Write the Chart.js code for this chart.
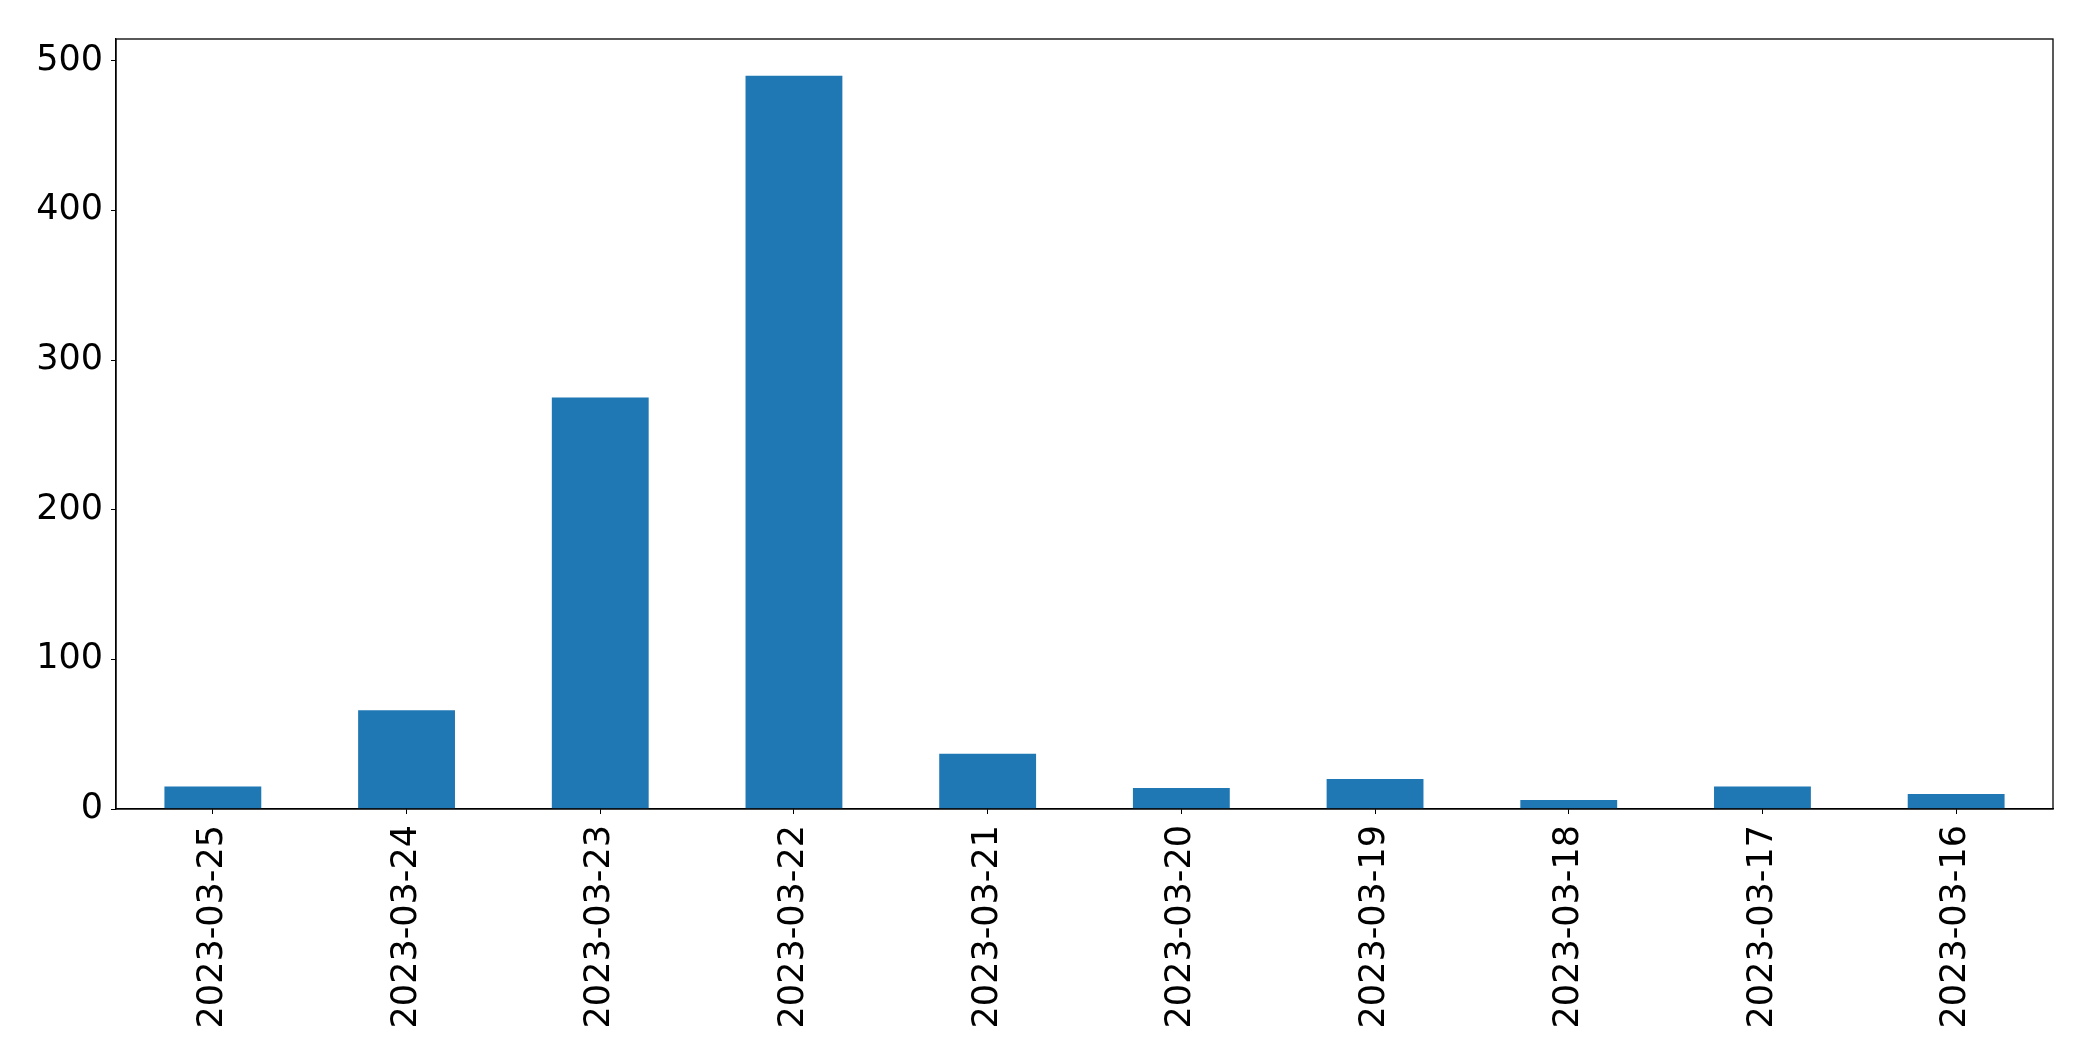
<!DOCTYPE html>
<html>
<head>
<meta charset="utf-8">
<script src="https://cdn.jsdelivr.net/npm/chart.js@4"></script>
<style>
  html, body { margin: 0; padding: 0; background: #fff; }
  #wrap { width: 2093px; height: 1061px; }
</style>
</head>
<body>
<div id="wrap"><canvas id="myChart" width="2093" height="1061"></canvas></div>
<script>
// --- Data ---
const dates = [
  "2023-03-25", "2023-03-24", "2023-03-23", "2023-03-22", "2023-03-21",
  "2023-03-20", "2023-03-19", "2023-03-18", "2023-03-17", "2023-03-16"
];
const counts = [15, 66, 275, 490, 37, 14, 20, 6, 15, 10];
const yTicks = [0, 100, 200, 300, 400, 500];

// --- Box round the plot area (matplotlib style frame) ---
const frame = {
  id: 'frame',
  afterDraw(chart) {
    const a = chart.chartArea;
    const c = chart.ctx;
    c.save();
    c.strokeStyle = '#000';
    c.lineWidth = 1.3;
    c.strokeRect(a.left, a.top, a.right - a.left, a.bottom - a.top);
    c.restore();
  }
};

const ctx = document.getElementById('myChart').getContext('2d');
new Chart(ctx, {
  type: 'bar',
  data: {
    labels: dates,
    datasets: [{
      data: counts,
      backgroundColor: '#1f77b4',
      borderWidth: 0,
      barPercentage: 0.5,
      categoryPercentage: 1.0
    }]
  },
  options: {
    responsive: false,
    animation: false,
    layout: { padding: { top: 39, right: 40, left: 0, bottom: 0 } },
    plugins: {
      legend: { display: false },
      tooltip: { enabled: false }
    },
    scales: {
      x: {
        offset: true,
        grid: { offset: false, drawOnChartArea: false, drawTicks: true, tickLength: 5, color: '#000' },
        border: { display: true, color: '#000', width: 1.3 },
        ticks: {
          color: '#000',
          font: { family: 'DejaVu Sans', size: 35 },
          minRotation: 90,
          maxRotation: 90,
          padding: 11,
          autoSkip: false
        },
        afterFit(scale) { scale.height = 252; scale.paddingLeft = 0; scale.paddingRight = 0; }
      },
      y: {
        min: 0,
        max: Math.max(...counts) * 1.05,
        grid: { drawOnChartArea: false, drawTicks: true, tickLength: 5, color: '#000' },
        border: { display: true, color: '#000', width: 1.3 },
        afterBuildTicks(scale) { scale.ticks = yTicks.map(v => ({ value: v })); },
        ticks: {
          color: '#000',
          font: { family: 'DejaVu Sans', size: 35 },
          padding: 8
        },
        afterFit(scale) { scale.width = 116; }
      }
    }
  },
  plugins: [frame]
});
</script>
</body>
</html>
